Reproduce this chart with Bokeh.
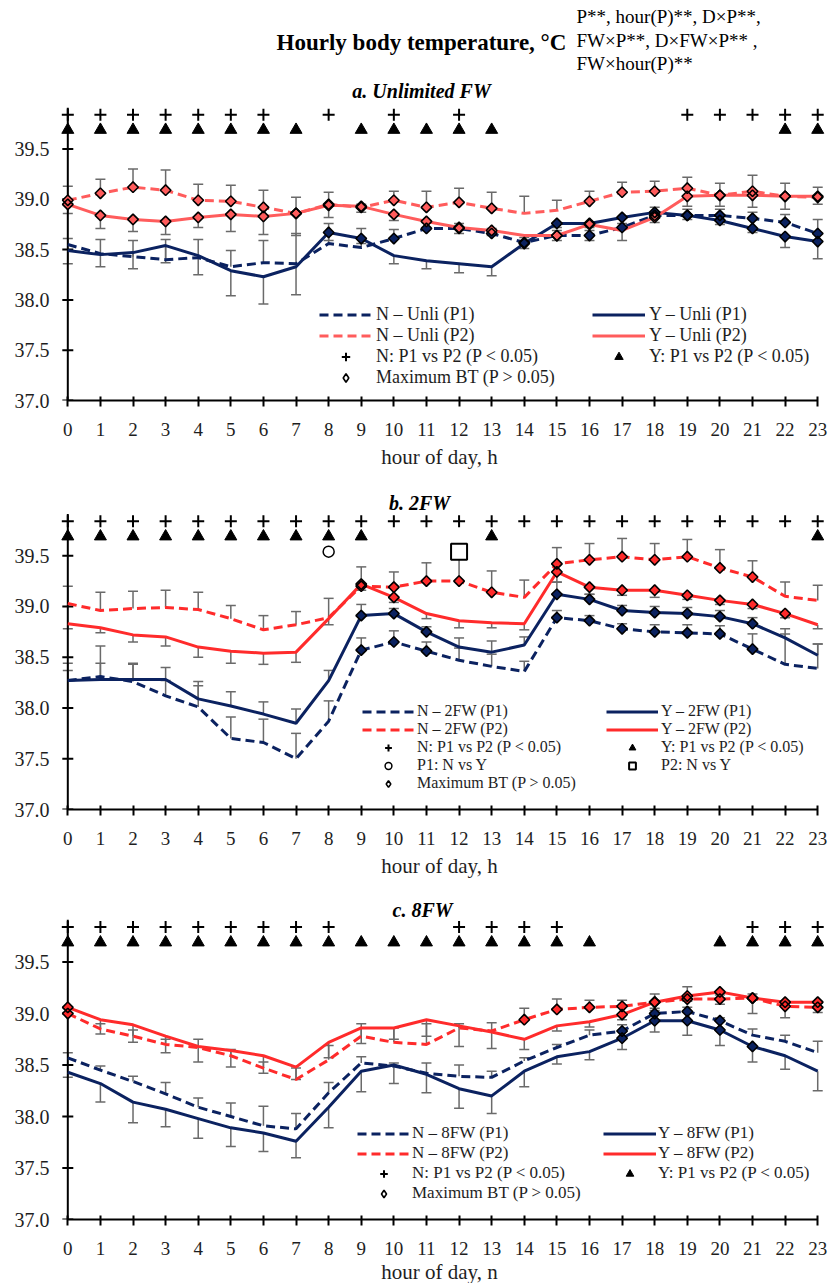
import math
from bokeh.plotting import figure
from bokeh.layouts import column
from bokeh.models import (ColumnDataSource, Range1d, FixedTicker, PrintfTickFormatter,
                          Whisker, TeeHead, Legend, LegendItem, Label)
from bokeh.embed import file_html
from bokeh.resources import INLINE

# ---------------- data ----------------
HOURS = [0, 1, 2, 3, 4, 5, 6, 7, 8, 9, 10, 11, 12, 13, 14, 15, 16, 17, 18, 19, 20, 21, 22, 23]
YTICKS = [37.0, 37.5, 38.0, 38.5, 39.0, 39.5]

# a. Unlimited FW
A_N_P1 = [38.55, 38.46, 38.43, 38.40, 38.42, 38.33, 38.37, 38.36, 38.56, 38.52, 38.61, 38.71,
          38.71, 38.66, 38.57, 38.64, 38.64, 38.72, 38.84, 38.84, 38.84, 38.81, 38.77, 38.66]
A_Y_P1 = [38.49, 38.45, 38.47, 38.54, 38.44, 38.29, 38.23, 38.33, 38.67, 38.61, 38.44, 38.39,
          38.36, 38.33, 38.56, 38.76, 38.76, 38.82, 38.87, 38.84, 38.79, 38.71, 38.63, 38.58]
A_N_P2 = [38.99, 39.06, 39.12, 39.09, 38.99, 38.98, 38.92, 38.86, 38.95, 38.92, 38.99, 38.92,
          38.97, 38.91, 38.86, 38.89, 38.98, 39.07, 39.08, 39.11, 39.04, 39.08, 39.03, 39.02]
A_Y_P2 = [38.95, 38.84, 38.80, 38.78, 38.82, 38.85, 38.83, 38.86, 38.94, 38.93, 38.85, 38.78,
          38.72, 38.69, 38.64, 38.64, 38.75, 38.69, 38.82, 39.03, 39.04, 39.04, 39.03, 39.03]
A_N_P1_ERR = [0.06, 0.14, 0.16, 0.20, 0.18, 0.16, 0.22, 0.30, 0.20, 0.19, 0.09, 0.06,
              0.05, 0.05, 0.05, 0.05, 0.05, 0.10, 0.08, 0.06, 0.06, 0.06, 0.08, 0.14]
A_Y_P1_ERR = [0.13, 0.12, 0.16, 0.17, 0.19, 0.25, 0.27, 0.28, 0.08, 0.05, 0.08, 0.08,
              0.09, 0.09, 0.05, 0.04, 0.04, 0.06, 0.04, 0.04, 0.04, 0.04, 0.11, 0.17]
A_N_P2_ERR = [0.14, 0.14, 0.18, 0.20, 0.16, 0.16, 0.17, 0.16, 0.12, 0.03, 0.09, 0.16,
              0.14, 0.16, 0.17, 0.10, 0.10, 0.10, 0.10, 0.11, 0.12, 0.16, 0.13, 0.10]
A_Y_P2_ERR = [0.09, 0.13, 0.12, 0.13, 0.10, 0.17, 0.18, 0.22, 0.12, 0.06, 0.06, 0.06,
              0.06, 0.05, 0.05, 0.05, 0.16, 0.10, 0.05, 0.10, 0.11, 0.12, 0.13, 0.08]
A_MAX_N_P1 = [10, 11, 12, 13, 14, 15, 16, 17, 18, 19, 20, 21, 22, 23]
A_MAX_Y_P1 = [8, 9, 14, 15, 16, 17, 18, 19, 20, 21, 22, 23]
A_MAX_N_P2 = [0, 1, 2, 3, 4, 5, 6, 7, 8, 9, 10, 11, 12, 13, 16, 17, 18, 19, 20, 21, 22, 23]
A_MAX_Y_P2 = [0, 1, 2, 3, 4, 5, 6, 7, 8, 9, 10, 11, 12, 13, 15, 16, 18, 19, 20, 21, 22, 23]
A_SIG_N = [0, 1, 2, 3, 4, 5, 6, 8, 10, 12, 19, 20, 21, 22, 23]
A_SIG_Y = [0, 1, 2, 3, 4, 5, 6, 7, 9, 10, 11, 12, 13, 22, 23]

# b. 2FW
B_N_P1 = [38.27, 38.31, 38.26, 38.12, 38.01, 37.70, 37.66, 37.50, 37.87, 38.57, 38.65, 38.56,
          38.47, 38.41, 38.36, 38.89, 38.86, 38.78, 38.75, 38.74, 38.73, 38.58, 38.43, 38.39]
B_Y_P1 = [38.27, 38.28, 38.28, 38.28, 38.09, 38.02, 37.94, 37.85, 38.27, 38.91, 38.93, 38.75,
          38.60, 38.55, 38.62, 39.12, 39.07, 38.96, 38.94, 38.93, 38.90, 38.83, 38.69, 38.52]
B_N_P2 = [39.03, 38.96, 38.98, 38.99, 38.97, 38.88, 38.77, 38.82, 38.89, 39.20, 39.19, 39.25,
          39.25, 39.14, 39.09, 39.42, 39.46, 39.49, 39.46, 39.49, 39.38, 39.29, 39.10, 39.06]
B_Y_P2 = [38.83, 38.79, 38.72, 38.70, 38.60, 38.56, 38.54, 38.55, 38.88, 39.22, 39.09, 38.93,
          38.86, 38.84, 38.83, 39.34, 39.19, 39.16, 39.16, 39.11, 39.06, 39.02, 38.93, 38.82]
B_N_P1_ERR = [0.17, 0.30, 0.18, 0.15, 0.21, 0.21, 0.23, 0.25, 0.20, 0.12, 0.11, 0.09,
              0.12, 0.12, 0.10, 0.07, 0.05, 0.05, 0.07, 0.08, 0.08, 0.15, 0.30, 0.24]
B_Y_P1_ERR = [0.10, 0.16, 0.15, 0.12, 0.17, 0.14, 0.12, 0.14, 0.10, 0.11, 0.05, 0.05,
              0.09, 0.11, 0.08, 0.12, 0.05, 0.05, 0.06, 0.06, 0.06, 0.06, 0.09, 0.11]
B_N_P2_ERR = [0.17, 0.18, 0.17, 0.17, 0.17, 0.13, 0.14, 0.13, 0.19, 0.19, 0.15, 0.18,
              0.23, 0.21, 0.17, 0.16, 0.16, 0.18, 0.16, 0.17, 0.18, 0.16, 0.14, 0.15]
B_Y_P2_ERR = [0.05, 0.05, 0.07, 0.09, 0.10, 0.12, 0.11, 0.10, 0.06, 0.06, 0.05, 0.05,
              0.07, 0.05, 0.06, 0.10, 0.07, 0.05, 0.07, 0.04, 0.04, 0.04, 0.04, 0.04]
B_MAX_N_P1 = [9, 10, 11, 15, 16, 17, 18, 19, 20, 21]
B_MAX_Y_P1 = [9, 10, 11, 15, 16, 17, 18, 19, 20, 21]
B_MAX_N_P2 = [9, 10, 11, 12, 13, 15, 16, 17, 18, 19, 20, 21]
B_MAX_Y_P2 = [9, 10, 15, 16, 17, 18, 19, 20, 21, 22]
B_SIG_N = [0, 1, 2, 3, 4, 5, 6, 7, 8, 9, 10, 11, 12, 13, 14, 15, 16, 17, 18, 19, 20, 21, 22, 23]
B_SIG_Y = [0, 1, 2, 3, 4, 5, 6, 7, 8, 9, 13, 23]
B_SIG_P1_NY = [8]
B_SIG_P2_NY = [12]

# c. 8FW
C_N_P1 = [38.57, 38.45, 38.34, 38.22, 38.09, 38.00, 37.91, 37.88, 38.23, 38.52, 38.49, 38.42,
          38.39, 38.38, 38.54, 38.67, 38.79, 38.83, 39.00, 39.02, 38.93, 38.79, 38.73, 38.62]
C_Y_P1 = [38.43, 38.32, 38.14, 38.07, 37.98, 37.89, 37.84, 37.76, 38.09, 38.44, 38.50, 38.41,
          38.27, 38.20, 38.44, 38.58, 38.63, 38.76, 38.93, 38.93, 38.84, 38.68, 38.59, 38.44]
C_N_P2 = [39.00, 38.85, 38.78, 38.70, 38.67, 38.59, 38.47, 38.36, 38.55, 38.78, 38.72, 38.70,
          38.86, 38.83, 38.94, 39.04, 39.06, 39.07, 39.11, 39.14, 39.14, 39.15, 39.07, 39.06]
C_Y_P2 = [39.06, 38.94, 38.89, 38.78, 38.68, 38.64, 38.59, 38.48, 38.72, 38.86, 38.86, 38.94,
          38.88, 38.82, 38.75, 38.88, 38.92, 38.99, 39.11, 39.17, 39.21, 39.15, 39.11, 39.11]
C_N_P1_ERR = [0.05, 0.04, 0.05, 0.11, 0.09, 0.13, 0.19, 0.15, 0.10, 0.06, 0.03, 0.10,
              0.11, 0.06, 0.03, 0.03, 0.05, 0.06, 0.03, 0.04, 0.03, 0.06, 0.06, 0.11]
C_Y_P1_ERR = [0.05, 0.18, 0.20, 0.17, 0.19, 0.18, 0.18, 0.16, 0.20, 0.20, 0.18, 0.18,
              0.19, 0.17, 0.15, 0.07, 0.08, 0.11, 0.11, 0.14, 0.15, 0.15, 0.13, 0.19]
C_N_P2_ERR = [0.05, 0.05, 0.06, 0.05, 0.08, 0.06, 0.06, 0.11, 0.14, 0.12, 0.14, 0.20,
              0.04, 0.08, 0.11, 0.10, 0.07, 0.06, 0.08, 0.12, 0.04, 0.04, 0.04, 0.04]
C_Y_P2_ERR = [0.05, 0.14, 0.17, 0.16, 0.15, 0.16, 0.17, 0.12, 0.15, 0.15, 0.11, 0.16,
              0.20, 0.16, 0.10, 0.05, 0.05, 0.05, 0.06, 0.05, 0.12, 0.15, 0.15, 0.10]
C_MAX_N_P1 = [17, 18, 19, 20]
C_MAX_Y_P1 = [17, 18, 19, 20, 21]
C_MAX_N_P2 = [0, 14, 15, 16, 17, 18, 19, 20, 21, 22, 23]
C_MAX_Y_P2 = [0, 17, 18, 19, 20, 21, 22, 23]
C_SIG_N = [0, 1, 2, 3, 4, 5, 6, 7, 8, 12, 13, 14, 15, 21, 22, 23]
C_SIG_Y = [0, 1, 2, 3, 4, 5, 6, 7, 8, 9, 10, 11, 12, 13, 14, 15, 16, 20, 21, 22, 23]

MAIN_TITLE = "Hourly body temperature, °C"
EFFECTS = ["P**, hour(P)**, D×P**,", "FW×P**, D×FW×P** ,", "FW×hour(P)**"]

# ---------------- style ----------------
FONT = "Liberation Serif"
NAVY = "#0B2260"
RED_A = "#FF5C5C"
RED_BC = "#FF2B2B"
ERR_COLOR = "#6A6A6A"
TXT = "#1E1E1E"
DASH = "9 5"
X_START, X_END = -0.5, 23.3
Y_START = 37.0
Y_AXIS_TOP = 39.91
FRAME_W = 776
SIG_N_Y, SIG_Y_Y, SIG_NY_Y = 39.84, 39.69, 39.54


def make_panel(cfg):
    p = figure(frame_width=FRAME_W, frame_height=cfg["frame_h"],
               x_range=Range1d(X_START, X_END), y_range=Range1d(Y_START, cfg["y_end"]),
               output_backend="svg", toolbar_location=None,
               min_border_left=51, min_border_right=2,
               min_border_top=0, min_border_bottom=cfg["bottom"])
    p.outline_line_color = None
    p.grid.visible = False
    p.background_fill_color = "white"
    p.border_fill_color = "white"

    # x axis
    xa = p.xaxis[0]
    xa.ticker = FixedTicker(ticks=HOURS)
    xa.bounds = (0, 23)
    xa.axis_line_width = 2
    xa.axis_line_color = "black"
    xa.major_tick_in = 4
    xa.major_tick_out = 6
    xa.major_tick_line_width = 2
    xa.minor_tick_line_color = None
    xa.major_label_text_font = FONT
    xa.major_label_text_font_size = "19px"
    xa.major_label_text_color = TXT
    xa.major_label_standoff = 16
    xa.axis_label = cfg["xlabel"]
    xa.axis_label_text_font = FONT
    xa.axis_label_text_font_size = "21px"
    xa.axis_label_text_font_style = "normal"
    xa.axis_label_text_color = TXT
    xa.axis_label_standoff = cfg["al_standoff"]

    # y axis (labels only; the axis line itself sits at hour 0)
    ya = p.yaxis[0]
    ya.ticker = FixedTicker(ticks=YTICKS)
    ya.formatter = PrintfTickFormatter(format="%.1f")
    ya.axis_line_color = None
    ya.major_tick_in = 0
    ya.major_tick_out = 0
    ya.minor_tick_line_color = None
    ya.major_label_text_font = FONT
    ya.major_label_text_font_size = "20px"
    ya.major_label_text_color = TXT
    ya.major_label_standoff = 2
    p.segment(x0=[0], y0=[Y_START], x1=[0], y1=[Y_AXIS_TOP], line_color="black", line_width=2)
    p.scatter([0] * len(YTICKS), YTICKS, marker="dash", size=11, line_color="black", line_width=2)

    series = cfg["series"]
    # error bars (one-sided, as in the original)
    up = dict(base=[], lower=[], upper=[])
    dn = dict(base=[], lower=[], upper=[])
    for s in series:
        for h, v, e in zip(HOURS, s["y"], s["err"]):
            if s["dir"] > 0:
                up["base"].append(h); up["lower"].append(v); up["upper"].append(v + e)
            else:
                dn["base"].append(h); dn["lower"].append(v - e); dn["upper"].append(v)
    p.add_layout(Whisker(source=ColumnDataSource(up), base="base", lower="lower", upper="upper",
                         dimension="height", line_color=ERR_COLOR, line_width=1.5,
                         upper_head=TeeHead(size=10, line_color=ERR_COLOR, line_width=1.5),
                         lower_head=None))
    p.add_layout(Whisker(source=ColumnDataSource(dn), base="base", lower="lower", upper="upper",
                         dimension="height", line_color=ERR_COLOR, line_width=1.5,
                         lower_head=TeeHead(size=10, line_color=ERR_COLOR, line_width=1.5),
                         upper_head=None))

    rends = []
    for s in series:
        r = p.line(HOURS, s["y"], line_color=s["color"], line_width=3, line_dash=s["dash"])
        rends.append(r)
    mx, my = [], []
    for s in series:
        xs = [HOURS[i] for i in s["max"]]
        ys = [s["y"][i] for i in s["max"]]
        mx += xs
        my += ys
        p.scatter(xs, ys, marker="square", angle=math.pi / 4, size=7.5, fill_color=s["color"],
                  line_color=None)
    p.scatter(mx, my, marker="square", angle=math.pi / 4, size=7.5, fill_color=None,
              line_color="black", line_width=1.6)
    # same points as a diamond marker, used only for the legend swatch
    r_max = p.scatter(mx, my, marker="diamond", size=12, fill_color="white",
                      line_color="black", line_width=1.6, visible=False)

    r_n = p.scatter(cfg["sig_n"], [SIG_N_Y] * len(cfg["sig_n"]), marker="cross", size=12,
                    line_color="black", line_width=2)
    r_y = p.scatter(cfg["sig_y"], [SIG_Y_Y] * len(cfg["sig_y"]), marker="triangle", size=12,
                    fill_color="black", line_color="black", line_width=1)
    extra = []
    if "sig_p1" in cfg:
        r_p1 = p.scatter(cfg["sig_p1"], [SIG_NY_Y] * len(cfg["sig_p1"]), marker="circle", size=11,
                         fill_color="white", line_color="black", line_width=1.5)
        r_p2 = p.scatter(cfg["sig_p2"], [SIG_NY_Y] * len(cfg["sig_p2"]), marker="square", size=16,
                         fill_color="white", line_color="black", line_width=2)
        extra = [(cfg["labels"][6], r_p1), (cfg["labels"][7], r_p2)]

    lab = cfg["labels"]
    items = [(lab[0], rends[0]), (lab[1], rends[1]), (lab[2], rends[2]), (lab[3], rends[3]),
             (lab[4], r_n), (lab[5], r_y)] + extra + [(lab[-1], r_max)]
    leg = Legend(items=[LegendItem(label=t, renderers=[r]) for t, r in items],
                 ncols=2, orientation="horizontal", location=cfg["leg_loc"],
                 label_text_font=FONT, label_text_font_size=cfg["leg_font"],
                 label_text_color=TXT,
                 glyph_width=cfg["glyph_w"], glyph_height=cfg["item_h"],
                 label_height=cfg["item_h"], label_standoff=cfg["standoff"],
                 label_width=cfg["label_w"], spacing=0, padding=0, margin=0,
                 inactive_fill_alpha=0, border_line_color=None, background_fill_alpha=0)
    p.add_layout(leg)

    for t in cfg["texts"]:
        p.add_layout(Label(x=t["x"], y=t["y"], x_units="screen", y_units="screen", text=t["text"],
                           text_font=FONT, text_font_size=t["size"], text_font_style=t["style"],
                           text_align=t["align"], text_baseline="middle", text_color="black"))
    return p


def mk_series(n1, y1, n2, y2, e_n1, e_y1, e_n2, e_y2, m_n1, m_y1, m_n2, m_y2, red, d1, dy1):
    return [
        dict(y=n1, color=NAVY, dash=DASH, err=e_n1, dir=d1, max=m_n1),
        dict(y=y1, color=NAVY, dash="solid", err=e_y1, dir=dy1, max=m_y1),
        dict(y=n2, color=red, dash=DASH, err=e_n2, dir=1, max=m_n2),
        dict(y=y2, color=red, dash="solid", err=e_y2, dir=-1, max=m_y2),
    ]


cfg_a = dict(
    frame_h=400, y_end=40.976, bottom=80, al_standoff=6, xlabel="hour of day, h",
    series=mk_series(A_N_P1, A_Y_P1, A_N_P2, A_Y_P2, A_N_P1_ERR, A_Y_P1_ERR, A_N_P2_ERR,
                     A_Y_P2_ERR, A_MAX_N_P1, A_MAX_Y_P1, A_MAX_N_P2, A_MAX_Y_P2, RED_A, 1, -1),
    sig_n=A_SIG_N, sig_y=A_SIG_Y,
    labels=["N – Unli (P1)", "Y – Unli (P1)", "N – Unli (P2)", "Y – Unli (P2)",
            "N: P1 vs P2 (P < 0.05)", "Y: P1 vs P2 (P < 0.05)", "Maximum BT (P > 0.05)"],
    leg_loc=(268, 12), leg_font="18px", glyph_w=53, item_h=21, standoff=4, label_w=216,
    texts=[
        dict(x=370, y=358, text=MAIN_TITLE, size="23px", style="bold", align="center"),
        dict(x=525, y=384, text=EFFECTS[0], size="19px", style="normal", align="left"),
        dict(x=525, y=360, text=EFFECTS[1], size="19px", style="normal", align="left"),
        dict(x=525, y=337, text=EFFECTS[2], size="19px", style="normal", align="left"),
        dict(x=370, y=310, text="a. Unlimited FW", size="20px", style="bold italic", align="center"),
    ])

cfg_b = dict(
    frame_h=329, y_end=40.241, bottom=76, al_standoff=6, xlabel="hour of day, h",
    series=mk_series(B_N_P1, B_Y_P1, B_N_P2, B_Y_P2, B_N_P1_ERR, B_Y_P1_ERR, B_N_P2_ERR,
                     B_Y_P2_ERR, B_MAX_N_P1, B_MAX_Y_P1, B_MAX_N_P2, B_MAX_Y_P2, RED_BC, 1, 1),
    sig_n=B_SIG_N, sig_y=B_SIG_Y, sig_p1=B_SIG_P1_NY, sig_p2=B_SIG_P2_NY,
    labels=["N – 2FW (P1)", "Y – 2FW (P1)", "N – 2FW (P2)", "Y – 2FW (P2)",
            "N: P1 vs P2 (P < 0.05)", "Y: P1 vs P2 (P < 0.05)", "P1: N vs Y", "P2: N vs Y",
            "Maximum BT (P > 0.05)"],
    leg_loc=(311, 17), leg_font="16px", glyph_w=52, item_h=17, standoff=3, label_w=189,
    texts=[dict(x=368, y=307, text="b. 2FW", size="20px", style="bold italic", align="center")])

cfg_c = dict(
    frame_h=334, y_end=40.243, bottom=63, al_standoff=2, xlabel="hour of day, n",
    series=mk_series(C_N_P1, C_Y_P1, C_N_P2, C_Y_P2, C_N_P1_ERR, C_Y_P1_ERR, C_N_P2_ERR,
                     C_Y_P2_ERR, C_MAX_N_P1, C_MAX_Y_P1, C_MAX_N_P2, C_MAX_Y_P2, RED_BC, 1, -1),
    sig_n=C_SIG_N, sig_y=C_SIG_Y,
    labels=["N – 8FW (P1)", "Y – 8FW (P1)", "N – 8FW (P2)", "Y – 8FW (P2)",
            "N: P1 vs P2 (P < 0.05)", "Y: P1 vs P2 (P < 0.05)", "Maximum BT (P > 0.05)"],
    leg_loc=(306, 16), leg_font="17px", glyph_w=53, item_h=19, standoff=2, label_w=191,
    texts=[dict(x=371, y=310, text="c. 8FW", size="20px", style="bold italic", align="center")])

pa = make_panel(cfg_a)
pb = make_panel(cfg_b)
pc = make_panel(cfg_c)

layout = column(pa, pb, pc, spacing=0)
open("out.html", "w").write(file_html(layout, INLINE))
